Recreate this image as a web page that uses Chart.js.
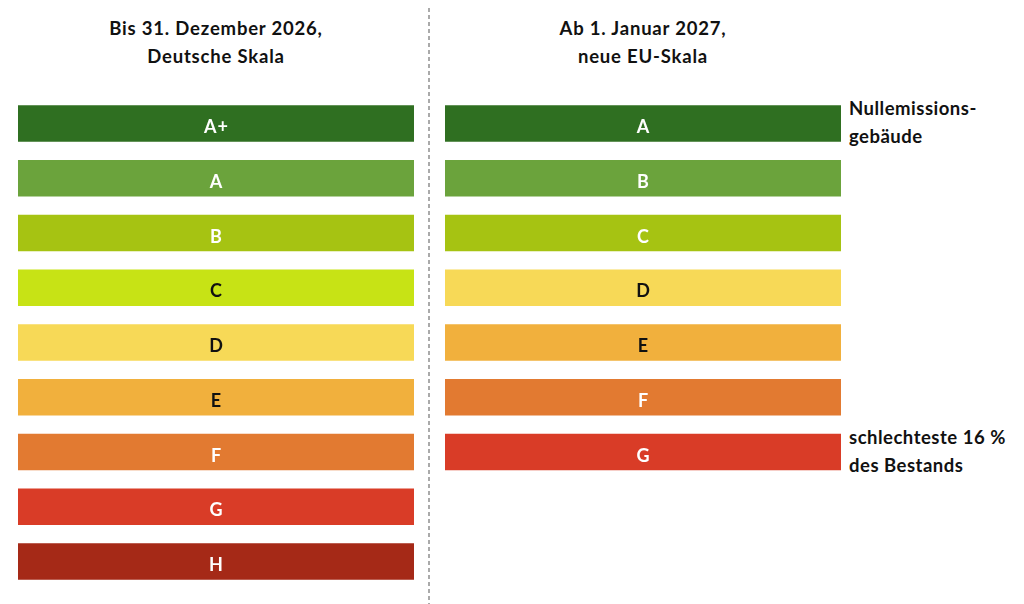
<!DOCTYPE html>
<html lang="de">
<head>
<meta charset="utf-8">
<title>Energieeffizienzklassen</title>
<script src="https://cdn.jsdelivr.net/npm/chart.js@4/dist/chart.umd.min.js"></script>
<style>
  body { margin: 0; background: #fff; width: 1024px; height: 604px; overflow: hidden; position: relative;
         font-family: Lato, "Open Sans", sans-serif; color: #111; }
  .title { position: absolute; top: 14px; width: 400px; text-align: center; font-weight: 700; font-size: 18.5px;
           letter-spacing: 0.8px; line-height: 28px; }
  .note { position: absolute; left: 849px; font-weight: 700; font-size: 18.5px; letter-spacing: 0.5px; line-height: 28px; }
  .divider { position: absolute; left: 428px; top: 8px; width: 2px; height: 596px;
             background: repeating-linear-gradient(to bottom, #aaa 0 4px, transparent 4px 7px); }
  .box { position: absolute; }
</style>
</head>
<body>
<div class="title" style="left:16px">Bis 31. Dezember 2026,<br>Deutsche Skala</div>
<div class="title" style="left:443px">Ab 1. Januar 2027,<br>neue EU-Skala</div>
<div class="divider"></div>
<div class="box" style="left:18px; top:95.6px; width:396px; height:492.75px"><canvas id="oldScale"></canvas></div>
<div class="box" style="left:445px; top:95.6px; width:396px; height:383.25px"><canvas id="newScale"></canvas></div>
<div class="note" style="top:94px">Nullemissions-<br>gebäude</div>
<div class="note" style="top:423px">schlechteste 16 %<br>des Bestands</div>

<script>
// German scale (until end of 2026)
const oldClasses = ['A+', 'A', 'B', 'C', 'D', 'E', 'F', 'G', 'H'];
const oldValues = [1, 1, 1, 1, 1, 1, 1, 1, 1];
const oldColors = ['#2f6f21', '#6ba33c', '#a6c312', '#c7e315', '#f7d957', '#f1b03d', '#e27a31', '#d93c27', '#a52917'];
const oldTextColors = ['#fff', '#fff', '#fff', '#111', '#111', '#111', '#fff', '#fff', '#fff'];

// new EU scale (from 2027)
const newClasses = ['A', 'B', 'C', 'D', 'E', 'F', 'G'];
const newValues = [1, 1, 1, 1, 1, 1, 1];
const newColors = ['#2f6f21', '#6ba33c', '#a6c312', '#f7d957', '#f1b03d', '#e27a31', '#d93c27'];
const newTextColors = ['#fff', '#fff', '#fff', '#111', '#111', '#fff', '#fff'];

// draws the class letter in the middle of every bar
const barLabels = {
    id: 'barLabels',
    afterDatasetsDraw(chart, args, opts) {
        const ctx = chart.ctx;
        const meta = chart.getDatasetMeta(0);
        ctx.save();
        ctx.font = '700 18px Lato, "Open Sans", sans-serif';
        ctx.letterSpacing = '1px';
        ctx.textAlign = 'center';
        ctx.textBaseline = 'middle';
        meta.data.forEach((bar, i) => {
            ctx.fillStyle = opts.colors[i];
            // letters sit a little below the bar's middle, as in the original
            ctx.fillText(chart.data.labels[i], (bar.x + bar.base) / 2 + 0.5, bar.y + 4);
        });
        ctx.restore();
    }
};

function makeScale(canvasId, labels, values, colors, textColors) {
    const ctx = document.getElementById(canvasId).getContext('2d');
    return new Chart(ctx, {
        type: 'bar',
        data: {
            labels: labels,
            datasets: [{
                data: values,
                backgroundColor: colors,
                borderWidth: 0,
                categoryPercentage: 1,
                barPercentage: 36.5 / 54.75
            }]
        },
        options: {
            indexAxis: 'y',
            responsive: true,
            maintainAspectRatio: false,
            animation: false,
            layout: { padding: 0 },
            scales: {
                x: { display: false, min: 0, max: 1 },
                y: { display: false }
            },
            plugins: {
                legend: { display: false },
                tooltip: { enabled: false },
                barLabels: { colors: textColors }
            }
        },
        plugins: [barLabels]
    });
}

makeScale('oldScale', oldClasses, oldValues, oldColors, oldTextColors);
makeScale('newScale', newClasses, newValues, newColors, newTextColors);
</script>
</body>
</html>
